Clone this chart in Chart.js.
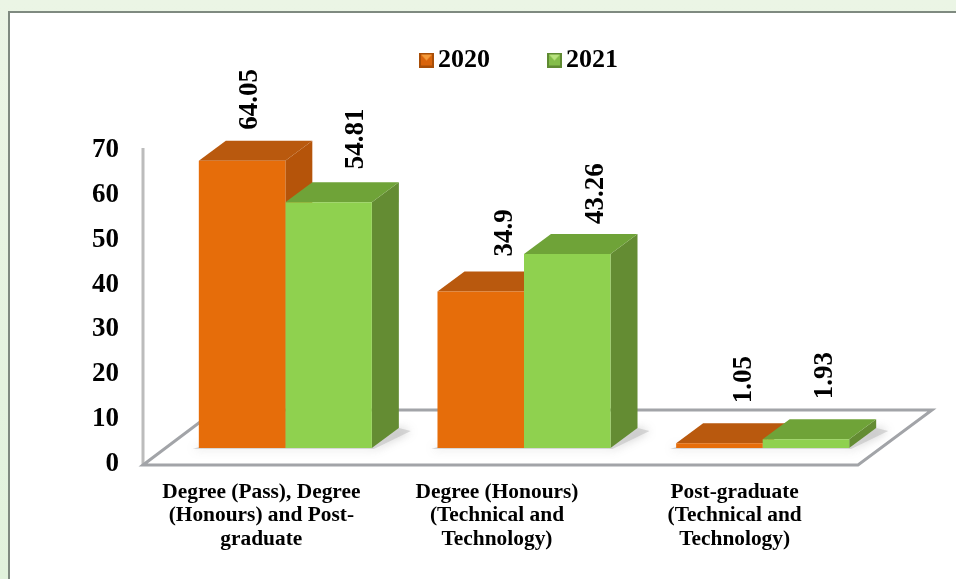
<!DOCTYPE html>
<html><head><meta charset="utf-8">
<style>
html,body{margin:0;padding:0;width:956px;height:579px;overflow:hidden;background:linear-gradient(#ebf5e5,#e1f2dc)}
#card{position:absolute;left:8px;top:11px;width:948px;height:568px;background:#fff;border-left:2px solid #7f8a80;border-top:2px solid #7f8a80}
#c{position:absolute;left:0;top:0}
</style>
<script src="https://cdn.jsdelivr.net/npm/chart.js@4"></script>
</head><body>
<div id="card"></div>
<canvas id="c" width="956" height="579"></canvas>
<script>
const categories = [
  ["Degree (Pass), Degree","(Honours) and Post-","graduate"],
  ["Degree (Honours)","(Technical and","Technology)"],
  ["Post-graduate","(Technical and","Technology)"]
];
const seriesNames = ["2020","2021"];
const values2020 = [64.05,34.9,1.05];
const values2021 = [54.81,43.26,1.93];
const yTicks = [0,10,20,30,40,50,60,70];

const FONT = '"Liberation Serif","Times New Roman",serif';
const SHIFT = {x:24,y:-16};            // front plane of the bars against the axis plane
const DEPTH = {x:27,y:-20};
const faces = [
  {front:'#e66d0a',side:'#b5540a',top:'#b9590e',icon:'#d9640c',iconLight:'#f59a3a',iconDark:'#a84e08'},
  {front:'#8fd14f',side:'#648c33',top:'#6fa338',icon:'#84bd4a',iconLight:'#b8e27e',iconDark:'#5f8a32'}
];
const labelOffsets = [
  [{x:8,y:31},{x:24,y:35},{x:25,y:40}],
  [{x:27,y:33},{x:29,y:30},{x:19,y:40}]
];
const tickLabelNudge = [0,-3,-4];

function makeIcon(f){
  const c=document.createElement('canvas');c.width=19;c.height=15;
  const g=c.getContext('2d');
  g.translate(4,0);
  g.fillStyle=f.iconDark;g.fillRect(0,0,15,15);
  g.fillStyle=f.icon;g.fillRect(2,2,11,11);
  g.fillStyle=f.iconLight;g.beginPath();g.moveTo(2,2);g.lineTo(13,2);g.lineTo(7.5,8);g.closePath();g.fill();
  return c;
}
const icons = faces.map(makeIcon);

function poly(ctx,pts,fill){
  ctx.beginPath();pts.forEach((p,i)=>i?ctx.lineTo(p[0],p[1]):ctx.moveTo(p[0],p[1]));ctx.closePath();
  ctx.fillStyle=fill;ctx.fill();
}

const scene = {
  id:'scene',
  afterLayout(chart){
    const l=chart.legend;
    const dx=92, dy=-67;
    l.left+=dx;l.right+=dx;l.top+=dy;l.bottom+=dy;
  },
  beforeDraw(chart){
    const xs=chart.scales.x;
    xs.getLabelItems().forEach((it,i)=>{
      if(!it._nudged){it.options.translation[0]+=tickLabelNudge[i];it._nudged=true;}
    });
  },
  beforeDatasetsDraw(chart){
    const {ctx,chartArea:a}=chart;
    const bottom=a.bottom+1, left=a.left, right=a.right;
    ctx.save();
    ctx.lineJoin='miter';
    ctx.beginPath();
    ctx.moveTo(left+1,a.top-2);ctx.lineTo(left+1,bottom);
    ctx.strokeStyle='#bcbcbc';ctx.lineWidth=3;ctx.stroke();
    ctx.beginPath();
    ctx.moveTo(left+1,bottom);ctx.lineTo(left+74,bottom-55);ctx.lineTo(right+74,bottom-55);ctx.lineTo(right,bottom);ctx.closePath();
    ctx.strokeStyle='#a2a4a8';ctx.lineWidth=3;ctx.stroke();
    ctx.restore();
    const m0=chart.getDatasetMeta(0), m1=chart.getDatasetMeta(1);
    // soft shadows on the floor
    ctx.save();
    ctx.shadowColor='rgba(120,120,120,0.7)';ctx.shadowBlur=10;
    m1.data.forEach((b,i)=>{
      const a0=m0.data[i];
      const x0=a0.x-a0.width/2+SHIFT.x,x1=b.x+b.width/2+SHIFT.x,y=b.base+SHIFT.y;
      poly(ctx,[[x0-6,y+1],[x1+2,y+1],[x1+DEPTH.x+12,y+DEPTH.y+3],[x1+DEPTH.x,y+DEPTH.y],[x1,y-1],[x0,y-1]],'rgba(190,190,190,0.55)');
    });
    ctx.restore();
    // side and top faces, back to front, before the front faces
    ctx.save();
    ctx.translate(SHIFT.x,SHIFT.y);
    [m0,m1].forEach((m,d)=>{
      const f=faces[d];
      m.data.forEach(b=>{
        const L=b.x-b.width/2,R=b.x+b.width/2,T=b.y,B=b.base;
        poly(ctx,[[R,T],[R+DEPTH.x,T+DEPTH.y],[R+DEPTH.x,B+DEPTH.y],[R,B]],f.side);
        poly(ctx,[[L,T],[L+DEPTH.x,T+DEPTH.y],[R+DEPTH.x,T+DEPTH.y],[R,T]],f.top);
      });
    });
    ctx.restore();
  },
  beforeDatasetDraw(chart){
    chart.ctx.save();
    chart.ctx.translate(SHIFT.x,SHIFT.y);
  },
  afterDatasetDraw(chart){chart.ctx.restore();},
  afterDatasetsDraw(chart){
    const {ctx}=chart;
    ctx.save();
    ctx.font='bold 27px '+FONT;ctx.fillStyle='#000';ctx.textAlign='left';ctx.textBaseline='middle';
    chart.data.datasets.forEach((ds,d)=>{
      chart.getDatasetMeta(d).data.forEach((b,i)=>{
        const o=labelOffsets[d][i];
        ctx.save();
        ctx.translate(b.x+SHIFT.x+o.x,b.y+SHIFT.y-o.y);
        ctx.rotate(-Math.PI/2);
        ctx.fillText(String(ds.data[i]),0,0);
        ctx.restore();
      });
    });
    ctx.restore();
  }
};

new Chart(document.getElementById('c'),{
  type:'bar',
  data:{labels:categories,datasets:[
    {label:seriesNames[0],data:values2020,backgroundColor:faces[0].front,clip:false,categoryPercentage:0.725,barPercentage:1},
    {label:seriesNames[1],data:values2021,backgroundColor:faces[1].front,clip:false,categoryPercentage:0.725,barPercentage:1}
  ]},
  options:{
    responsive:false,animation:false,
    layout:{padding:{top:52,left:0,right:98,bottom:0}},
    plugins:{
      tooltip:{enabled:false},
      legend:{position:'top',labels:{
        font:{family:FONT,size:26,weight:'bold'},color:'#000',
        usePointStyle:true,boxWidth:1,padding:62,
        generateLabels(chart){
          return Chart.defaults.plugins.legend.labels.generateLabels(chart).map(it=>Object.assign(it,{pointStyle:icons[it.datasetIndex]}));
        }
      }}
    },
    scales:{
      x:{
        grid:{display:false,drawTicks:false},border:{display:false},
        ticks:{font:{family:FONT,size:21.4,weight:'bold',lineHeight:1.12},color:'#000',padding:16,maxRotation:0,minRotation:0,autoSkip:false},
        afterFit(s){s.height=115;}
      },
      y:{
        min:0,max:70,
        grid:{display:false,drawTicks:false},border:{display:false},
        afterBuildTicks(s){s.ticks=yTicks.map(v=>({value:v}));},
        ticks:{font:{family:FONT,size:27,weight:'bold'},color:'#000',padding:23},
        afterFit(s){s.width=142;}
      }
    }
  },
  plugins:[scene]
});
</script>
</body></html>
